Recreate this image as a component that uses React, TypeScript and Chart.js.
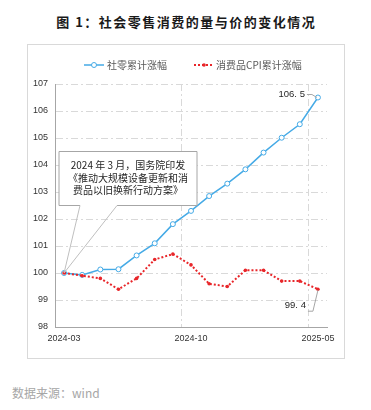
import React, { useEffect, useRef } from 'react';
import { Chart, registerables } from 'chart.js';

Chart.register(...registerables);

const categories = [
  '2024-03', '2024-04', '2024-05', '2024-06', '2024-07', '2024-08', '2024-09', '2024-10',
  '2024-11', '2024-12', '2025-01', '2025-02', '2025-03', '2025-04', '2025-05',
];
const retailValues = [100.0, 99.93, 100.13, 100.14, 100.65, 101.1, 101.81, 102.3, 102.85, 103.31, 103.84, 104.46, 105.01, 105.51, 106.5];
const cpiValues = [100.0, 99.9, 99.8, 99.4, 99.8, 100.5, 100.7, 100.3, 99.6, 99.5, 100.1, 100.1, 99.7, 99.7, 99.4];
const shownXLabels = ['2024-03', '2024-10', '2025-05'];
const yMin = 98;
const yMax = 107;
const yStep = 1;
const seriesNames = ['社零累计涨幅', '消费品CPI累计涨幅'];
const calloutLines = ['2024 年 3 月，国务院印发', '《推动大规模设备更新和消', '费品以旧换新行动方案》'];
const titleText = '图 1：社会零售消费的量与价的变化情况';
const sourceText = '数据来源：wind';

const BLUE = '#45aae6';
const RED = '#e8262a';
const GRID = '#d9d9d9';
const GRID_DASH = [7, 3, 2, 3];
const CJK = '"Noto Sans CJK SC", "Noto Sans", sans-serif';
const LATIN = '"Liberation Sans", Arial, sans-serif';

const fmt = (v: number) => v.toFixed(1).replace('.', '. ');

const decorPlugin = {
  id: 'decor',
  afterDraw(chart: any) {
    const { ctx, chartArea, scales } = chart;
    const xs = scales.x;
    const ys = scales.y;
    ctx.save();

    // Legend
    const ly = 20;
    ctx.lineWidth = 1.5;
    ctx.strokeStyle = BLUE;
    ctx.setLineDash([]);
    ctx.beginPath();
    ctx.moveTo(56, ly);
    ctx.lineTo(76, ly);
    ctx.stroke();
    ctx.beginPath();
    ctx.arc(66, ly, 2.5, 0, Math.PI * 2);
    ctx.fillStyle = '#fff';
    ctx.fill();
    ctx.lineWidth = 1;
    ctx.stroke();
    ctx.font = `10px ${CJK}`;
    ctx.fillStyle = '#595959';
    ctx.textBaseline = 'middle';
    ctx.textAlign = 'left';
    ctx.fillText(seriesNames[0], 79, ly);

    ctx.strokeStyle = RED;
    ctx.lineWidth = 2;
    ctx.setLineDash([2, 2]);
    ctx.beginPath();
    ctx.moveTo(166, ly);
    ctx.lineTo(184, ly);
    ctx.stroke();
    ctx.setLineDash([]);
    ctx.fillStyle = RED;
    ctx.beginPath();
    ctx.arc(176, ly, 1.8, 0, Math.PI * 2);
    ctx.fill();
    ctx.fillStyle = '#595959';
    ctx.fillText(seriesNames[1], 188, ly);

    // Callout box
    const p0 = chart.getDatasetMeta(1).data[0];
    const left = chartArea.left + 4;
    const right = xs.getPixelForValue(7) + 6;
    const top = ys.getPixelForValue(104.5);
    const bottom = ys.getPixelForValue(102.5);
    const b1 = left + 21;
    const b2 = left + 58;
    ctx.fillStyle = '#fff';
    ctx.fillRect(left, top, right - left, bottom - top);
    ctx.strokeStyle = '#a6a6a6';
    ctx.lineWidth = 1;
    ctx.beginPath();
    ctx.moveTo(b1, bottom);
    ctx.lineTo(left, bottom);
    ctx.lineTo(left, top);
    ctx.lineTo(right, top);
    ctx.lineTo(right, bottom);
    ctx.lineTo(b2, bottom);
    ctx.stroke();
    ctx.strokeStyle = '#bfbfbf';
    ctx.beginPath();
    ctx.moveTo(b1, bottom);
    ctx.lineTo(p0.x, p0.y);
    ctx.lineTo(b2, bottom);
    ctx.stroke();

    ctx.fillStyle = '#262626';
    ctx.font = `10px ${CJK}`;
    ctx.textAlign = 'center';
    const cx = (left + right) / 2;
    calloutLines.forEach((t, i) => {
      ctx.fillText(t, cx, top + 14 + i * 12.5);
    });

    // End labels with leader lines
    const rl = chart.getDatasetMeta(1).data[retailValues.length - 1];
    const cl = chart.getDatasetMeta(0).data[cpiValues.length - 1];
    ctx.font = `9.5px ${LATIN}`;
    ctx.fillStyle = '#262626';
    ctx.textAlign = 'right';
    ctx.fillText(fmt(retailValues[retailValues.length - 1]), rl.x - 13, rl.y - 3);
    ctx.fillText(fmt(cpiValues[cpiValues.length - 1]), cl.x - 12, cl.y + 16.5);
    ctx.strokeStyle = '#a6a6a6';
    ctx.lineWidth = 1;
    ctx.beginPath();
    ctx.moveTo(rl.x - 11, rl.y - 3);
    ctx.lineTo(rl.x - 6, rl.y - 3);
    ctx.lineTo(rl.x - 1, rl.y);
    ctx.stroke();
    ctx.beginPath();
    ctx.moveTo(cl.x - 10, cl.y + 22);
    ctx.lineTo(cl.x - 5, cl.y + 22);
    ctx.lineTo(cl.x, cl.y + 1);
    ctx.stroke();

    ctx.restore();
  },
};

function ChartBox() {
  const ref = useRef<HTMLCanvasElement | null>(null);
  useEffect(() => {
    if (!ref.current) return;
    const chart = new Chart(ref.current, {
      type: 'line',
      data: {
        labels: categories,
        datasets: [
          {
            label: seriesNames[1],
            data: cpiValues,
            borderColor: RED,
            backgroundColor: RED,
            borderWidth: 2,
            borderDash: [2, 2],
            pointRadius: 1.8,
            pointBorderWidth: 0,
            pointBackgroundColor: RED,
            tension: 0,
            order: 0,
          },
          {
            label: seriesNames[0],
            data: retailValues,
            borderColor: BLUE,
            backgroundColor: '#fff',
            borderWidth: 1.5,
            pointRadius: 2.5,
            pointBorderWidth: 1,
            pointBorderColor: BLUE,
            pointBackgroundColor: '#fff',
            tension: 0,
            order: 1,
          },
        ],
      },
      options: {
        animation: false,
        responsive: false,
        maintainAspectRatio: false,
        devicePixelRatio: 1,
        layout: { padding: { left: 0, right: 17, top: 39, bottom: 0 } },
        plugins: {
          legend: { display: false },
          title: { display: false },
          tooltip: { enabled: false },
        },
        scales: {
          x: {
            type: 'category',
            offset: true,
            grid: {
              display: true,
              offset: true,
              drawTicks: false,
              lineWidth: 1,
              color: (c: any) => (c.index === 7 || c.index === 14 ? GRID : 'rgba(0,0,0,0)'),
            },
            border: { display: true, color: '#a6a6a6', width: 1, dash: GRID_DASH },
            ticks: {
              autoSkip: false,
              maxRotation: 0,
              minRotation: 0,
              padding: 6,
              color: '#333',
              font: { family: LATIN, size: 9 },
              callback: (_v: any, i: number) => (shownXLabels.includes(categories[i]) ? categories[i] : ''),
            },
            afterFit: (s: any) => {
              s.height = 31;
            },
          },
          y: {
            min: yMin,
            max: yMax,
            grid: {
              drawTicks: false,
              lineWidth: 1,
              color: (c: any) => (c.tick && c.tick.value === yMin ? 'rgba(0,0,0,0)' : GRID),
            },
            border: { display: true, color: '#a6a6a6', width: 1, dash: GRID_DASH },
            ticks: {
              stepSize: yStep,
              padding: 7,
              color: '#333',
              font: { family: LATIN, size: 9 },
            },
            afterFit: (s: any) => {
              s.width = 27;
            },
          },
        },
      },
      plugins: [decorPlugin],
    } as any);
    return () => chart.destroy();
  }, []);
  return <canvas ref={ref} width={316} height={313} style={{ display: 'block', width: 316, height: 313 }} />;
}

export default function App() {
  return (
    <div style={{ position: 'fixed', left: 0, top: 0, width: 371, height: 410, background: '#fff', overflow: 'hidden' }}>
      <div
        style={{
          position: 'absolute',
          left: 0,
          top: 13,
          width: 371,
          paddingLeft: 1.5,
          boxSizing: 'border-box',
          textAlign: 'center',
          fontFamily: CJK,
          fontWeight: 700,
          fontSize: 13,
          letterSpacing: 1.5,
          lineHeight: '18px',
          color: '#1a1a1a',
          whiteSpace: 'nowrap',
        }}
      >
        {titleText}
      </div>
      <div
        style={{
          position: 'absolute',
          left: 27,
          top: 44,
          width: 316,
          height: 313,
          border: '1px solid #d9d9d9',
        }}
      >
        <ChartBox />
      </div>
      <div
        style={{
          position: 'absolute',
          left: 12,
          top: 385,
          fontFamily: CJK,
          fontSize: 12,
          lineHeight: '16px',
          color: '#a6a6a6',
          whiteSpace: 'nowrap',
        }}
      >
        {sourceText}
      </div>
    </div>
  );
}
